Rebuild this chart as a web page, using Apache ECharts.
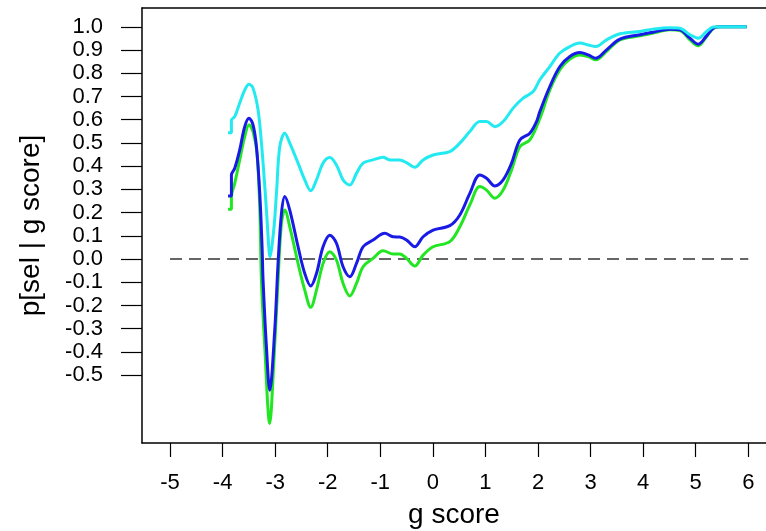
<!DOCTYPE html>
<html>
<head>
<meta charset="utf-8">
<script src="https://cdn.jsdelivr.net/npm/echarts@6/dist/echarts.min.js"></script>
<style>
html,body{margin:0;padding:0;background:#fff;}
#chart{width:766px;height:531px;}
</style>
</head>
<body>
<div id="chart"></div>
<script>
// g score values and p[sel | g score] for each curve
const cyanX = [-3.896,-3.832,-3.832,-3.769,-3.674,-3.579,-3.497,-3.421,-3.325,-3.261,-3.211,-3.166,-3.122,-3.103,-3.027,-2.975,-2.912,-2.817,-2.722,-2.564,-2.437,-2.323,-2.214,-2.089,-1.961,-1.834,-1.708,-1.58,-1.453,-1.327,-1.137,-0.947,-0.819,-0.629,-0.501,-0.344,-0.186,0.005,0.322,0.513,0.703,0.893,1.021,1.179,1.337,1.527,1.717,1.908,2.035,2.225,2.416,2.606,2.796,2.954,3.101,3.304,3.558,3.938,4.191,4.509,4.699,4.89,5.047,5.207,5.333,5.46,5.969];
const cyanY = [0.544,0.544,0.599,0.613,0.672,0.728,0.753,0.736,0.642,0.5,0.355,0.211,0.053,0.01,0.125,0.284,0.484,0.542,0.499,0.413,0.341,0.294,0.341,0.413,0.437,0.405,0.341,0.319,0.369,0.413,0.427,0.438,0.427,0.427,0.415,0.395,0.427,0.448,0.463,0.499,0.549,0.592,0.592,0.57,0.592,0.65,0.693,0.721,0.772,0.829,0.887,0.915,0.93,0.922,0.915,0.944,0.97,0.98,0.99,0.996,0.994,0.966,0.951,0.98,0.999,1.0,1.0];

const blueX = [-3.896,-3.832,-3.832,-3.769,-3.674,-3.579,-3.497,-3.421,-3.356,-3.293,-3.249,-3.23,-3.166,-3.103,-3.008,-2.945,-2.88,-2.817,-2.722,-2.564,-2.437,-2.323,-2.214,-2.089,-1.961,-1.834,-1.708,-1.58,-1.453,-1.327,-1.137,-0.914,-0.756,-0.629,-0.501,-0.344,-0.186,0.005,0.322,0.513,0.703,0.893,1.021,1.179,1.337,1.497,1.655,1.845,1.972,2.035,2.225,2.416,2.606,2.796,2.954,3.101,3.304,3.558,3.938,4.191,4.509,4.699,4.89,5.047,5.207,5.333,5.46,5.969];
const blueY = [0.272,0.272,0.362,0.391,0.47,0.57,0.606,0.578,0.484,0.283,0.053,-0.091,-0.378,-0.565,-0.306,-0.019,0.197,0.269,0.211,0.053,-0.062,-0.116,-0.062,0.053,0.103,0.068,-0.033,-0.076,-0.019,0.053,0.082,0.111,0.096,0.095,0.082,0.053,0.096,0.125,0.144,0.19,0.283,0.362,0.348,0.315,0.341,0.413,0.513,0.542,0.592,0.635,0.743,0.829,0.872,0.889,0.879,0.865,0.901,0.947,0.966,0.977,0.99,0.987,0.951,0.925,0.961,0.994,1.0,1.0];

const greenX = [-3.896,-3.832,-3.832,-3.769,-3.674,-3.579,-3.497,-3.421,-3.345,-3.293,-3.261,-3.198,-3.103,-3.027,-2.945,-2.88,-2.817,-2.722,-2.564,-2.437,-2.323,-2.214,-2.089,-1.961,-1.834,-1.708,-1.58,-1.453,-1.327,-1.137,-0.947,-0.756,-0.629,-0.501,-0.344,-0.186,0.005,0.322,0.513,0.703,0.893,1.021,1.179,1.337,1.497,1.655,1.845,2.035,2.225,2.416,2.606,2.796,2.954,3.101,3.304,3.558,3.938,4.191,4.509,4.699,4.89,5.047,5.207,5.333,5.46,5.969];
const greenY = [0.214,0.214,0.269,0.326,0.427,0.527,0.578,0.549,0.456,0.22,-0.091,-0.378,-0.708,-0.45,-0.091,0.154,0.211,0.139,-0.019,-0.134,-0.208,-0.134,-0.019,0.031,-0.004,-0.105,-0.159,-0.105,-0.033,0.003,0.036,0.022,0.022,0.003,-0.03,0.017,0.053,0.075,0.139,0.233,0.312,0.297,0.262,0.297,0.384,0.484,0.513,0.605,0.728,0.815,0.861,0.879,0.872,0.858,0.894,0.944,0.961,0.973,0.987,0.984,0.944,0.918,0.958,0.993,1.0,1.0];

const refLineX = [-5, 6];
const refLineY = [0, 0];

const xTicks = [-5,-4,-3,-2,-1,0,1,2,3,4,5,6];
const yTicks = [-0.5,-0.4,-0.3,-0.2,-0.1,0,0.1,0.2,0.3,0.4,0.5,0.6,0.7,0.8,0.9,1.0];

const zip = (xs, ys) => xs.map((x, i) => [x, ys[i]]);
const FONT = '"Liberation Sans", Arial, sans-serif';

const chart = echarts.init(document.getElementById('chart'), null, {renderer: 'canvas'});

function curve(name, xs, ys, color) {
  return {
    name, type: 'line', data: zip(xs, ys), showSymbol: false, smooth: 0.35,
    lineStyle: {color, width: 3}, itemStyle: {color}, animation: false, z: 3
  };
}

chart.setOption({
  animation: false,
  backgroundColor: '#fff',
  grid: {left: 142, right: 0, top: 8, bottom: 88, containLabel: false, outerBoundsMode: 'none'},
  xAxis: [{
    type: 'value', min: -5.533, max: 6.337, position: 'bottom',
    name: 'g score', nameLocation: 'middle', nameGap: 58,
    nameTextStyle: {fontFamily: FONT, fontSize: 28, color: '#000'},
    axisLine: {show: true, onZero: false, lineStyle: {color: '#000', width: 1.5}},
    axisTick: {show: true, inside: false, length: 14, customValues: xTicks, lineStyle: {color: '#000', width: 1.2}},
    axisLabel: {show: true, customValues: xTicks, margin: 29, fontFamily: FONT, fontSize: 22, color: '#000',
      formatter: v => String(Math.round(v))},
    splitLine: {show: false}
  }, {
    type: 'value', min: -5.533, max: 6.337, position: 'top',
    axisLine: {show: true, onZero: false, lineStyle: {color: '#000', width: 1.5}},
    axisTick: {show: false}, axisLabel: {show: false}, splitLine: {show: false}
  }],
  yAxis: {
    type: 'value', min: -0.792, max: 1.081,
    name: 'p[sel | g score]', nameLocation: 'middle', nameGap: 97, nameRotate: 90,
    nameTextStyle: {fontFamily: FONT, fontSize: 28, color: '#000'},
    axisLine: {show: true, onZero: false, lineStyle: {color: '#000', width: 1.5}},
    axisTick: {show: true, inside: false, length: 21, customValues: yTicks, lineStyle: {color: '#000', width: 1.2}},
    axisLabel: {show: true, customValues: yTicks, margin: 39, fontFamily: FONT, fontSize: 22, color: '#000',
      formatter: v => (Math.abs(v) < 1e-9 ? 0 : v).toFixed(1)},
    splitLine: {show: false}
  },
  series: [
    {
      name: 'zero', type: 'line', data: zip(refLineX, refLineY), showSymbol: false,
      lineStyle: {color: '#666', width: 2, type: [12, 7]}, z: 2, animation: false
    },
    curve('green', greenX, greenY, '#22e622'),
    curve('blue', blueX, blueY, '#1a1ae6'),
    curve('cyan', cyanX, cyanY, '#22eaf0')
  ]
});
</script>
</body>
</html>
